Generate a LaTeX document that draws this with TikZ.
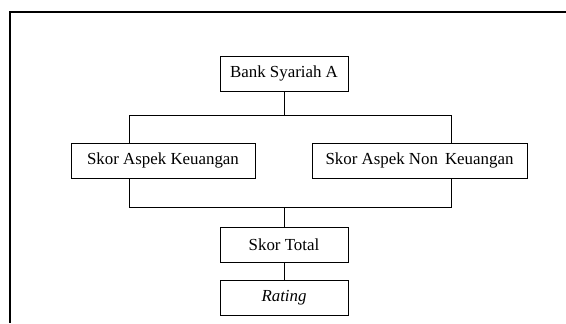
\documentclass[tikz,border=0pt]{standalone}
\usepackage{fontspec}
\setmainfont{Liberation Serif}
\begin{document}
\begin{tikzpicture}[x=0.025cm,y=-0.025cm,
  kotak/.style={draw, line width=0.6pt, inner sep=0pt, minimum height=0.875cm, font=\fontsize{12}{14}\selectfont}]
\useasboundingbox (0,0) rectangle (566,323);
% bingkai
\draw[line width=1.4pt] (566,12) -- (10,12) -- (10,323);
\node[kotak, minimum width=3.2cm] (bank) at (284,73.5) {Bank Syariah A};
\node[kotak, minimum width=4.6cm] (keu) at (163,160.5) {Skor Aspek Keuangan};
\node[kotak, minimum width=5.375cm] (nonkeu) at (419.5,160.5) {Skor Aspek Non\, Keuangan};
\node[kotak, minimum width=3.2cm] (total) at (284,244.5) {Skor Total};
\node[kotak, minimum width=3.2cm] (rating) at (284,297.5) {\itshape Rating};
\coordinate (kiri1) at (129,115);
\coordinate (kanan1) at (451,115);
\coordinate (kiri2) at (129,207);
\coordinate (kanan2) at (451,207);
\draw[line width=0.6pt] (bank.south) -- (bank.south |- kiri1);
\draw[line width=0.6pt] (keu.north -| kiri1) -- (kiri1) -- (kanan1) -- (nonkeu.north -| kanan1);
\draw[line width=0.6pt] (keu.south -| kiri2) -- (kiri2) -- (kanan2) -- (nonkeu.south -| kanan2);
\draw[line width=0.6pt] (total.north |- kiri2) -- (total.north);
\draw[line width=0.6pt] (total) -- (rating);
\end{tikzpicture}
\end{document}
